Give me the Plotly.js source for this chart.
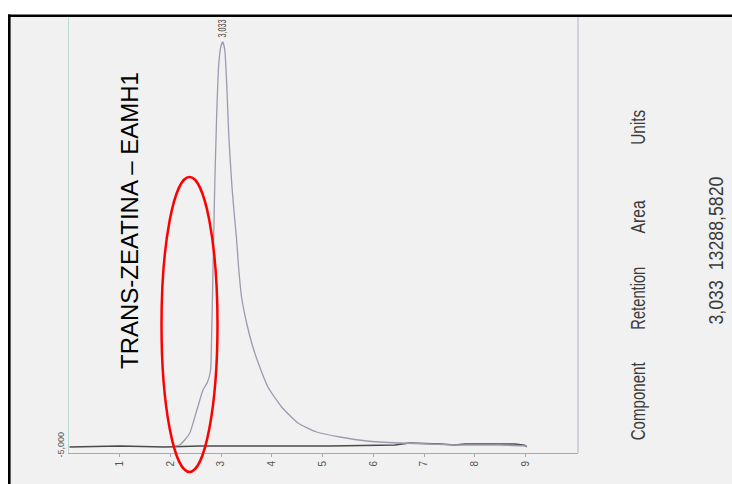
<!DOCTYPE html>
<html>
<head>
<meta charset="utf-8">
<script src="https://cdn.plot.ly/plotly-3.0.1.min.js"></script>
<style>html,body{margin:0;padding:0;background:#fff;}#chart{width:732px;height:484px;}</style>
</head>
<body>
<div id="chart"></div>
<script>
// Chromatogram trace (retention time in minutes, detector signal)
const peakTime = [2.08,2.18,2.28,2.38,2.52,2.64,2.73,2.79,2.81,2.83,2.87,2.91,2.95,2.99,3.03,3.07,3.11,3.15,3.21,3.27,3.30,3.34,3.40,3.50,3.60,3.73,3.92,4.19,4.51,4.88,5.34,5.87,6.52,7.11,7.70,8.49,9.02];
const peakSignal = [-5000,-4750,-3500,-1750,4000,9000,11000,14000,22250,34000,59000,77750,90250,94750,96000,94000,84750,72250,60000,51000,47000,40000,32250,25750,20750,15750,9750,4750,750,-1500,-2750,-3750,-4250,-4500,-4750,-4750,-5000];
// Baseline trace
const baseTime = [0.01,1.0,1.89,2.58,3.76,5.14,6.42,6.71,7.31,7.60,7.80,8.78,8.98,9.02];
const baseSignal = [-5250,-5000,-5250,-5000,-5000,-5000,-4750,-4250,-4500,-4750,-4500,-4500,-4750,-5250];
// Axis ticks
const timeTicks = [1,2,3,4,5,6,7,8,9];
const signalTicks = [-5000];
const signalTickText = ['-5,000'];
// Texts
const chartTitle = 'TRANS-ZEATINA – EAMH1';
const peakLabel = '3,033';
const tableHeaders = ['Component','Retention','Area','Units'];
const tableRow = '3,033  13288,5820';

const sans = 'Liberation Sans, Arial, sans-serif';

const traces = [
  {x: baseTime, y: baseSignal, type: 'scatter', mode: 'lines',
   line: {color: '#4a4a4a', width: 1.3}, hoverinfo: 'skip'},
  {x: peakTime, y: peakSignal, type: 'scatter', mode: 'lines',
   line: {color: '#9e9aae', width: 1.3, shape: 'spline', smoothing: 0.5}, hoverinfo: 'skip'}
];

const px2paperX = p => (p - 69) / 509;
const px2paperY = p => (453 - p) / 438;

const headerY = [401, 298, 217, 127];
const fitLength = {'Component': 78, 'Retention': 63, 'Area': 33, 'Units': 35};
fitLength[tableRow] = 148;
fitLength[peakLabel] = 18;

const annotations = [
  {text: chartTitle, x: px2paperX(129), y: px2paperY(221), xref: 'paper', yref: 'paper',
   xanchor: 'center', yanchor: 'middle',
   textangle: -90, showarrow: false, font: {family: sans, size: 24, color: '#000'}},
  {text: peakLabel, x: 3.033, y: px2paperY(28), xref: 'x', yref: 'paper',
   xanchor: 'center', yanchor: 'middle',
   textangle: -90, showarrow: false, font: {family: sans, size: 10, color: '#444'}},
  {text: tableRow, x: px2paperX(716), y: px2paperY(251), xref: 'paper', yref: 'paper',
   xanchor: 'center', yanchor: 'middle',
   textangle: -90, showarrow: false, font: {family: sans, size: 20, color: '#3a3a3a'}}
];
tableHeaders.forEach((h, i) => annotations.push({
  text: h, x: px2paperX(638), y: px2paperY(headerY[i]), xref: 'paper', yref: 'paper',
  xanchor: 'center', yanchor: 'middle',
  textangle: -90, showarrow: false, font: {family: sans, size: 20, color: '#3a3a3a'}
}));

const shapes = [
  {type: 'rect', xref: 'paper', yref: 'paper', x0: px2paperX(9), x1: px2paperX(740), y0: px2paperY(490), y1: 1,
   fillcolor: '#f1f1f1', line: {width: 0}, layer: 'below'},
  {type: 'line', xref: 'paper', yref: 'paper', x0: px2paperX(578), x1: px2paperX(578), y0: 0, y1: 1,
   line: {color: '#c9c3d3', width: 1.5}},
  {type: 'line', xref: 'paper', yref: 'paper', x0: px2paperX(9.3), x1: px2paperX(9.3), y0: px2paperY(490), y1: px2paperY(14.5),
   line: {color: '#000', width: 2.6}},
  {type: 'line', xref: 'paper', yref: 'paper', x0: px2paperX(8), x1: px2paperX(740), y0: px2paperY(15.8), y1: px2paperY(15.8),
   line: {color: '#000', width: 2.6}},
  {type: 'circle', xref: 'paper', yref: 'paper', x0: px2paperX(161.5), x1: px2paperX(217.5), y0: px2paperY(472), y1: px2paperY(177),
   line: {color: '#ff0000', width: 2.5}}
];

const layout = {
  width: 732, height: 484,
  margin: {l: 69, r: 154, t: 15, b: 31, pad: 0},
  paper_bgcolor: '#ffffff', plot_bgcolor: 'rgba(0,0,0,0)',
  showlegend: false,
  xaxis: {range: [0, 10.03], showgrid: false, zeroline: false, showline: true, linecolor: '#a9a9a9', linewidth: 1,
          ticks: 'outside', ticklen: 3, tickcolor: '#aaa', tickvals: timeTicks, tickangle: -90,
          tickfont: {family: sans, size: 10, color: '#555'}},
  yaxis: {range: [-6750, 102750], showgrid: false, zeroline: false, showline: true, linecolor: '#b9dbcf', linewidth: 1.5,
          ticks: '', tickvals: signalTicks, ticktext: signalTickText, tickangle: -90,
          tickfont: {family: sans, size: 9, color: '#555'}},
  annotations: annotations,
  shapes: shapes
};

Plotly.newPlot('chart', traces, layout, {staticPlot: true, displayModeBar: false}).then(gd => {
  // condense the narrow-font texts to their measured lengths
  gd.querySelectorAll('text.annotation-text').forEach(t => {
    const len = fitLength[t.textContent];
    if (len) {
      t.setAttribute('textLength', len);
      t.setAttribute('lengthAdjust', 'spacingAndGlyphs');
    }
  });
});
</script>
</body>
</html>
